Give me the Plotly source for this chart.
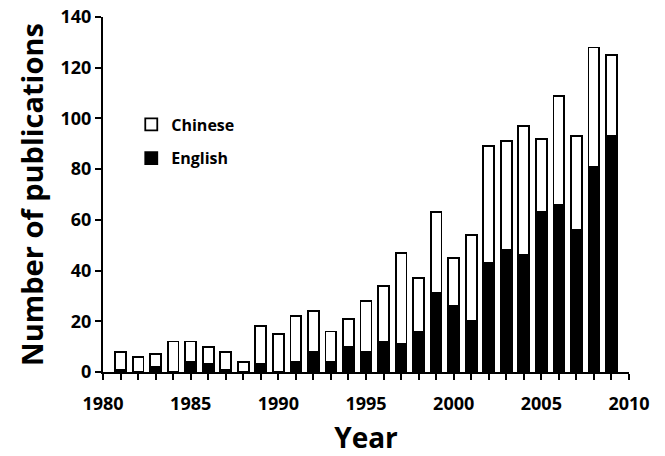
import plotly.graph_objects as go

# Publications per year, split by language
years = list(range(1981, 2010))
total = [8, 6, 7, 12, 12, 10, 8, 4, 18, 15, 22, 24, 16, 21, 28, 34, 47, 37, 63, 45,
         54, 89, 91, 97, 92, 109, 93, 128, 125]
english = [1, 0, 2, 0, 4, 3, 1, 0, 3, 0, 4, 8, 4, 10, 8, 12, 11, 16, 31, 26,
           20, 43, 48, 46, 63, 66, 56, 81, 93]
chinese = [t - e for t, e in zip(total, english)]

FONT = "Open Sans"
W, H = 665, 456
L, R, T, B = 102.7, 35.7, 16.5, 84.3

fig = go.Figure()
bar_w = 0.62
fig.add_trace(go.Bar(
    x=years, y=english, name="English", width=bar_w,
    marker=dict(color="black", line=dict(color="black", width=1.8)),
    legendgroup="en", legendrank=2,
))
fig.add_trace(go.Bar(
    x=years, y=chinese, name="Chinese", width=bar_w,
    marker=dict(color="white", line=dict(color="black", width=1.8)),
    legendgroup="cn", legendrank=1,
))

fig.update_layout(
    width=W, height=H,
    margin=dict(l=L, r=R, t=T, b=B, pad=0, autoexpand=False),
    barmode="stack",
    plot_bgcolor="white", paper_bgcolor="white",
    font=dict(family=FONT, color="black"),
    showlegend=True,
    legend=dict(
        x=(131 - L) / (W - L - R), y=1 - (107 - T) / (H - T - B),
        xanchor="left", yanchor="top",
        bgcolor="rgba(0,0,0,0)", borderwidth=0,
        font=dict(family=FONT, size=16, color="black", weight="bold"),
        tracegroupgap=10, traceorder="grouped",
    ),
    xaxis=dict(
        range=[1980, 2010], tickmode="linear", tick0=1980, dtick=5,
        automargin=False,
        showgrid=False, zeroline=False,
        showline=True, linecolor="black", linewidth=2,
        ticks="outside", ticklen=6, tickwidth=2, tickcolor="black",
        minor=dict(dtick=1, ticks="outside", ticklen=6, tickwidth=2, tickcolor="black", showgrid=False),
        tickfont=dict(family=FONT, size=18, weight="bold"),
        ticklabelstandoff=8,
        title=dict(text="Year", font=dict(family=FONT, size=28, weight="bold"), standoff=17),
    ),
    yaxis=dict(
        range=[0, 140], tickmode="linear", tick0=0, dtick=20,
        automargin=False,
        showgrid=False, zeroline=False,
        showline=True, linecolor="black", linewidth=2,
        ticks="outside", ticklen=6, tickwidth=2, tickcolor="black",
        tickfont=dict(family=FONT, size=18, weight="bold"),
        title=dict(text="Number of publications", font=dict(family=FONT, size=29, weight="bold"), standoff=8),
    ),
)

fig.write_html("out.html")
